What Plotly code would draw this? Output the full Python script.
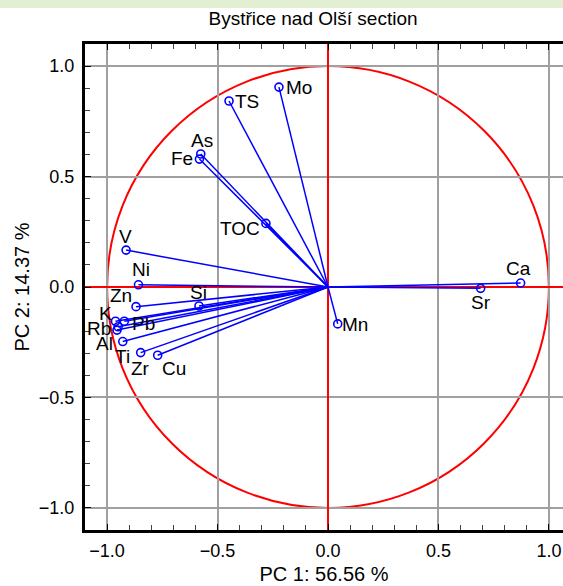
import plotly.graph_objects as go

# Loadings
variables = ["Mo", "TS", "As", "Fe", "TOC", "V", "Ni", "Zn", "Si", "K", "Pb", "Rb", "Ti", "Al", "Zr", "Cu", "Ca", "Sr", "Mn"]
pc1 = [-0.222, -0.448, -0.576, -0.582, -0.281, -0.914, -0.858, -0.869, -0.584, -0.962, -0.922, -0.955, -0.950, -0.929, -0.848, -0.771, 0.872, 0.691, 0.044]
pc2 = [0.905, 0.842, 0.602, 0.579, 0.288, 0.167, 0.010, -0.089, -0.086, -0.155, -0.155, -0.195, -0.180, -0.247, -0.297, -0.309, 0.018, -0.006, -0.167]

x_ticks = [-1.0, -0.5, 0.0, 0.5, 1.0]
y_ticks = [-1.0, -0.5, 0.0, 0.5, 1.0]

# label placement styles: (xshift, yshift) of the label centre from its point, in pixels
label_style = {
    "Mo": (20, 0), "TS": (18, -1), "As": (1, 14), "Fe": (-17, 1), "TOC": (-26, -5),
    "V": (-1, 14), "Ni": (3, 15), "Zn": (-15, 11), "Si": (0, 14), "K": (-10, 8),
    "Pb": (19, -2), "Rb": (-18, 2), "Ti": (4, -30), "Al": (-18, -2), "Zr": (0, -16),
    "Cu": (16, -13), "Ca": (-2, 15), "Sr": (0, -14), "Mn": (17, -1),
}

BLUE = "#0000ff"
RED = "#ff0000"
FONT = "Liberation Sans, Arial, sans-serif"

lx, ly = [], []
for a, b in zip(pc1, pc2):
    lx += [0, a, None]
    ly += [0, b, None]

fig = go.Figure()
fig.add_trace(go.Scatter(x=lx, y=ly, mode="lines", line=dict(color=BLUE, width=1.5),
                         hoverinfo="skip", showlegend=False))
fig.add_trace(go.Scatter(x=pc1, y=pc2, mode="markers", text=variables,
                         marker=dict(symbol="circle-open", size=8, color=BLUE, line=dict(width=1.6, color=BLUE)),
                         showlegend=False))

for name, a, b in zip(variables, pc1, pc2):
    xs, ys = label_style[name]
    fig.add_annotation(x=a, y=b, text=name, showarrow=False, xanchor="center", yanchor="middle",
                       xshift=xs, yshift=ys, font=dict(family=FONT, size=19, color="black"))

# unit circle
fig.add_shape(type="circle", xref="x", yref="y", x0=-1, y0=-1, x1=1, y1=1,
              line=dict(color=RED, width=2), layer="below")

# top green band
fig.add_shape(type="rect", xref="paper", yref="paper", x0=-85/478, x1=1.0,
              y0=1 + 36/486, y1=1 + 44/486, line=dict(width=0), fillcolor="#e2efd2", layer="below")

axis_common = dict(
    automargin=False,
    showgrid=True, gridcolor="#a0a0a0", gridwidth=1.5,
    zeroline=True, zerolinecolor=RED, zerolinewidth=2,
    showline=True, linecolor="black", linewidth=3,
    ticks="inside", ticklen=6, tickcolor="black", tickwidth=1,
    tickfont=dict(family=FONT, size=18, color="black"),
    tickformat=".1f",
    minor=dict(ticks="inside", ticklen=5, dtick=0.1, tickcolor="#444444", tickwidth=1, showgrid=False),
)

fig.update_xaxes(range=[-1.1, 1.1 - 8 / 221.0], tickvals=x_ticks, mirror="ticks", ticklabelstandoff=2,
                 title=dict(text="PC 1: 56.56 %", font=dict(family=FONT, size=20, color="black"), standoff=8),
                 **axis_common)
fig.update_yaxes(range=[-1.1, 1.1], tickvals=y_ticks, mirror=False, ticklabelstandoff=4,
                 title=dict(text="PC 2: 14.37 %", font=dict(family=FONT, size=20, color="black"), standoff=4),
                 **axis_common)

fig.update_layout(
    width=563, height=586,
    margin=dict(l=85, r=0, t=44, b=56),
    plot_bgcolor="white", paper_bgcolor="white",
    title=dict(text="Bystřice nad Olší section", x=313 / 563, xanchor="center", y=1 - 18 / 586, yanchor="middle",
               font=dict(family=FONT, size=19, color="black")),
    font=dict(family=FONT),
)

fig.write_html("out.html", config={"displayModeBar": False},
               post_script="document.body.style.margin='0px';document.body.style.overflow='hidden';")
